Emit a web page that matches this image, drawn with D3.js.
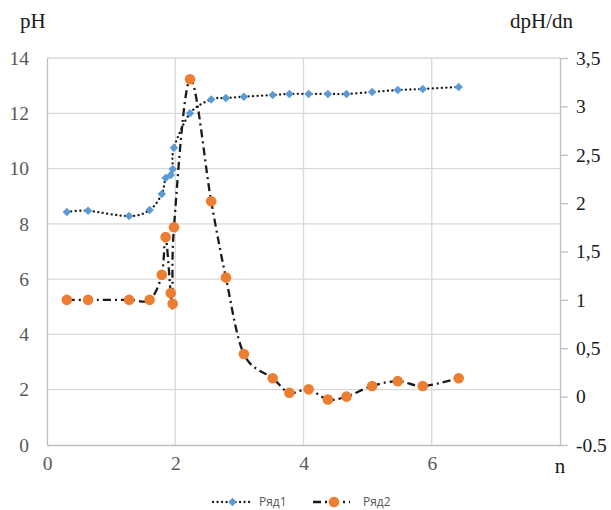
<!DOCTYPE html>
<html>
<head>
<meta charset="utf-8">
<script src="https://cdn.jsdelivr.net/npm/d3@7"></script>
<style>
  body { margin: 0; background: #fff; }
</style>
</head>
<body>
<div id="chart"></div>
<script>
// n values (shared by both series)
const nValues = [0.31, 0.64, 1.28, 1.6, 1.79, 1.85, 1.93, 1.96, 1.98, 2.23, 2.56, 2.79,
                 3.07, 3.52, 3.78, 4.08, 4.38, 4.67, 5.07, 5.47, 5.86, 6.42];
// Ряд1: pH (left axis)
const phValues = [8.43, 8.47, 8.28, 8.5, 9.08, 9.66, 9.77, 9.98, 10.75, 12.0, 12.5, 12.55,
                  12.6, 12.66, 12.7, 12.7, 12.7, 12.7, 12.77, 12.84, 12.88, 12.95];
// Ряд2: dpH/dn (right axis)
const dphValues = [1.0, 1.0, 1.0, 1.0, 1.26, 1.65, 1.07, 0.96, 1.75, 3.28, 2.02, 1.23,
                   0.44, 0.19, 0.04, 0.075, -0.03, 0.0, 0.11, 0.16, 0.11, 0.19];

const xTicks = [0, 2, 4, 6];
const leftTicks = [0, 2, 4, 6, 8, 10, 12, 14];
const rightTicks = [-0.5, 0, 0.5, 1, 1.5, 2, 2.5, 3, 3.5];
const rightTickLabels = ["-0.5", "0", "0,5", "1", "1,5", "2", "2,5", "3", "3,5"];
const seriesNames = ["Ряд1", "Ряд2"];

const serif = "'Liberation Serif', 'Times New Roman', 'DejaVu Serif', serif";
const sans = "'Open Sans', 'Noto Sans', 'DejaVu Sans', sans-serif";

const W = 611, H = 510;
const margin = { top: 58, right: 51, bottom: 65, left: 47 };

const svg = d3.select("#chart").append("svg")
    .attr("width", W)
    .attr("height", H);

const x = d3.scaleLinear().domain([0, 8]).range([margin.left, W - margin.right]);
const yL = d3.scaleLinear().domain([0, 14]).range([H - margin.bottom, margin.top]);
const yR = d3.scaleLinear().domain([-0.5, 3.5]).range([H - margin.bottom, margin.top]);

// gridlines
svg.append("g").selectAll("line")
    .data(leftTicks.slice(1))
    .enter().append("line")
    .attr("x1", x(0)).attr("x2", x(8))
    .attr("y1", d => yL(d)).attr("y2", d => yL(d))
    .attr("stroke", "#d9d9d9").attr("stroke-width", 1.3);

svg.append("g").selectAll("line")
    .data(xTicks.slice(1))
    .enter().append("line")
    .attr("x1", d => x(d)).attr("x2", d => x(d))
    .attr("y1", yL(0)).attr("y2", yL(14))
    .attr("stroke", "#d9d9d9").attr("stroke-width", 1.3);

// axes
const xAxis = svg.append("g")
    .attr("transform", `translate(0,${yL(0)})`)
    .call(d3.axisBottom(x).tickValues(xTicks).tickSize(0).tickPadding(11));
xAxis.attr("font-family", serif).attr("font-size", 19.5);
xAxis.select(".domain").attr("stroke", "#bfbfbf").attr("stroke-width", 1.3);
xAxis.selectAll("text").attr("fill", "#595959");

const leftAxis = svg.append("g")
    .attr("transform", `translate(${x(0)},0)`)
    .call(d3.axisLeft(yL).tickValues(leftTicks).tickSize(0).tickPadding(18));
leftAxis.attr("font-family", serif).attr("font-size", 19.5);
leftAxis.select(".domain").attr("stroke", "#bfbfbf").attr("stroke-width", 1.3);
leftAxis.selectAll("text").attr("fill", "#595959");

const rightAxis = svg.append("g")
    .attr("transform", `translate(${x(8)},0)`)
    .call(d3.axisRight(yR).tickValues(rightTicks).tickSizeInner(8).tickSizeOuter(0).tickPadding(8)
        .tickFormat((d, i) => rightTickLabels[i]));
rightAxis.attr("font-family", serif).attr("font-size", 19.5);
rightAxis.select(".domain").attr("stroke", "#bfbfbf").attr("stroke-width", 1.3);
rightAxis.selectAll("line").attr("stroke", "#bfbfbf").attr("stroke-width", 1.3);
rightAxis.selectAll("text").attr("fill", "#1a1a1a");

// axis titles
svg.append("text").attr("x", 20).attr("y", 28)
    .attr("font-family", serif).attr("font-size", 21).attr("fill", "#1a1a1a").text("pH");
svg.append("text").attr("x", 510).attr("y", 28)
    .attr("font-family", serif).attr("font-size", 21).attr("fill", "#1a1a1a").text("dpH/dn");
svg.append("text").attr("x", x(8)).attr("y", 473).attr("text-anchor", "middle")
    .attr("font-family", serif).attr("font-size", 21).attr("fill", "#1a1a1a").text("n");

const data1 = nValues.map((n, i) => ({ n, v: phValues[i] }));
const data2 = nValues.map((n, i) => ({ n, v: dphValues[i] }));

const curve = d3.curveCardinal.tension(0);
const diamond = d3.symbol(d3.symbolSquare, 36);

// Ряд1 line + markers
svg.append("path")
    .datum(data1)
    .attr("fill", "none")
    .attr("stroke", "#1a1a1a")
    .attr("stroke-width", 2.3)
    .attr("stroke-linecap", "round")
    .attr("stroke-dasharray", "0.1,4.4")
    .attr("d", d3.line().x(d => x(d.n)).y(d => yL(d.v)).curve(curve));

svg.append("g").selectAll("path")
    .data(data1)
    .enter().append("path")
    .attr("transform", d => `translate(${x(d.n)},${yL(d.v)}) rotate(45)`)
    .attr("d", diamond)
    .attr("fill", "#5b9bd5");

// Ряд2 line + markers
svg.append("path")
    .datum(data2)
    .attr("fill", "none")
    .attr("stroke", "#1a1a1a")
    .attr("stroke-width", 2.3)
    .attr("stroke-dasharray", "8,4,2,4")
    .attr("d", d3.line().x(d => x(d.n)).y(d => yR(d.v)).curve(curve));

svg.append("g").selectAll("circle")
    .data(data2)
    .enter().append("circle")
    .attr("cx", d => x(d.n))
    .attr("cy", d => yR(d.v))
    .attr("r", 5.3)
    .attr("fill", "#ed7d31");

// legend
const legend = svg.append("g").attr("font-family", sans).attr("font-size", 12).attr("fill", "#595959");
const ly = 502;
legend.append("line").attr("x1", 213).attr("x2", 252).attr("y1", ly).attr("y2", ly)
    .attr("stroke", "#1a1a1a").attr("stroke-width", 2.3)
    .attr("stroke-linecap", "round").attr("stroke-dasharray", "0.1,4.4");
legend.append("path").attr("transform", `translate(232.5,${ly}) rotate(45)`)
    .attr("d", diamond).attr("fill", "#5b9bd5");
legend.append("text").attr("x", 259).attr("y", ly + 4).text(seriesNames[0]);

legend.append("line").attr("x1", 313).attr("x2", 350).attr("y1", ly).attr("y2", ly)
    .attr("stroke", "#1a1a1a").attr("stroke-width", 2.3).attr("stroke-dasharray", "8,4,2,4");
legend.append("circle").attr("cx", 334).attr("cy", ly).attr("r", 5.3).attr("fill", "#ed7d31");
legend.append("text").attr("x", 363).attr("y", ly + 4).text(seriesNames[1]);
</script>
</body>
</html>
